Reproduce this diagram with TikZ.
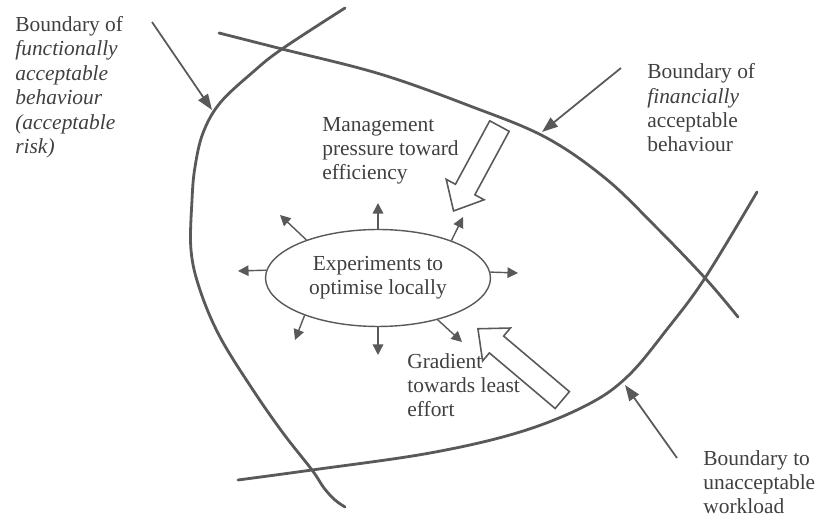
\documentclass[tikz,border=0pt]{standalone}
\usepackage{fontspec}
\setmainfont{Liberation Serif}
\usetikzlibrary{positioning, shapes.geometric, shapes.arrows, arrows.meta}

\begin{document}
\begin{tikzpicture}[x=0.02cm, y=-0.02cm,
	boundary/.style = {draw=black!65, line width=1.6pt, line cap=round},
	txt/.style = {align=left, inner sep=0pt, anchor=base west, text=black!75,
				  font=\fontsize{12.2}{13.9}\selectfont},
	pointer/.style = {draw=black!65, line width=1pt, -{Triangle[length=9pt, width=6.5pt]}},
	spoke/.style = {draw=black!65, line width=0.8pt, -{Triangle[length=6pt, width=6pt]}},
	bigarrow/.style = {single arrow, draw=black!65, line width=0.9pt, inner xsep=0pt,
					   inner ysep=0.205cm, single arrow head extend=0.21cm,
					   single arrow tip angle=83, anchor=tip}]

	\useasboundingbox (0,0) rectangle (815,519);

	% boundaries
	\draw[boundary] plot[smooth, tension=0.6] coordinates {(345,8) (282,49) (253,72) (220,103)
		(203,133) (195,167) (192,200) (191,250) (200,290) (220,337) (253,390) (283,433)
		(312,470) (324,488) (335,500) (345,507)};
	\draw[boundary] plot[smooth, tension=0.6] coordinates {(219,33) (282,49) (380,74)
		(470,106) (545,137) (605,178) (655,226) (705,278) (738,317)};
	\draw[boundary] plot[smooth, tension=0.6] coordinates {(238,480) (312,470) (430,453)
		(520,432) (587,405) (628,376) (668,328) (705,278) (757,192)};

	% labels (placed by the baseline of their last line)
	\node (funlbl) [txt] at (15,153.5) {Boundary of\\ \textit{functionally}\\ \textit{acceptable}\\
		\textit{behaviour}\\ \textit{(acceptable}\\ \textit{risk)}};
	\node (finlbl) [txt] at (647,152) {Boundary of\\ \textit{financially}\\ acceptable\\ behaviour};
	\node (wllbl) [txt] at (703,514) {Boundary to\\ unacceptable\\ workload};
	\node (presslbl) [txt] at (322,180) {Management\\ pressure toward\\ efficiency};
	\node (gradlbl) [txt] at (407,417) {Gradient\\ towards least\\ effort};

	% pointers to the boundaries
	\coordinate (funfrom) at (152,22);
	\coordinate (funto) at (212,110);
	\coordinate (finfrom) at (621,68);
	\coordinate (finto) at (542,132);
	\coordinate (wlfrom) at (677,458);
	\coordinate (wlto) at (625,385);
	\draw[pointer] (funfrom) -- (funto);
	\draw[pointer] (finfrom) -- (finto);
	\draw[pointer] (wlfrom) -- (wlto);

	% experiments
	\node (exp) [ellipse, draw=black!65, line width=0.8pt, minimum width=4.5cm,
		minimum height=1.94cm, inner sep=0pt, align=center, text=black!75,
		font=\fontsize{12.2}{13.9}\selectfont] at (378,278) {Experiments to\\ optimise locally};
	\foreach \ang/\tx/\ty [count=\i] in {90/378/203, 152/280/215, 27/463/217, 176/238/271,
		3/518/273, 207/295/340, 270/378/355, 325/462/342} {
		\coordinate (tip\i) at (\tx,\ty);
		\draw[spoke] (exp.\ang) -- (tip\i);
	}

	% pressures
	\node (press) [bigarrow, minimum height=1.93cm, rotate=241.6] at (453,212) {};
	\node (grad) [bigarrow, minimum height=2.21cm, rotate=139.8] at (477,328) {};
\end{tikzpicture}
\end{document}
